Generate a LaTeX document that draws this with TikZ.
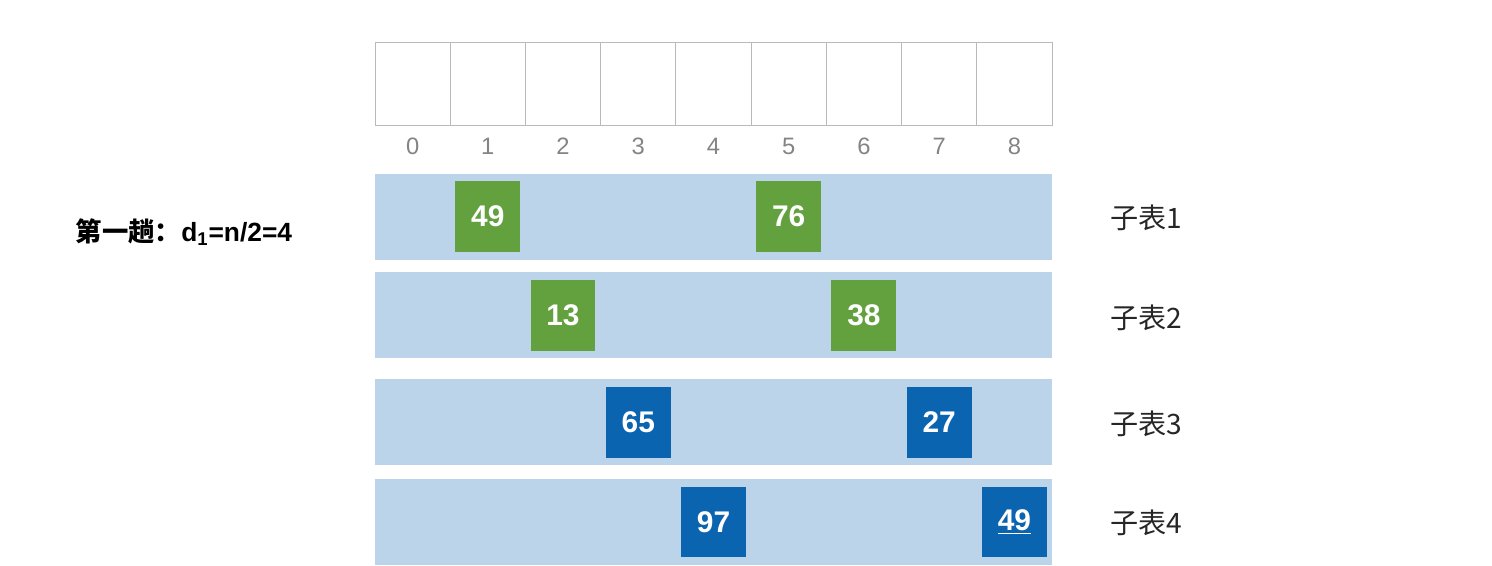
\documentclass[tikz,border=0pt]{standalone}
\usepackage{fontspec}
\setmainfont{Liberation Sans}
\newfontfamily\cjk{Noto Sans CJK SC}
\usepackage{tikz}
\usetikzlibrary{positioning, calc}
\definecolor{bandblue}{RGB}{188,212,234}
\definecolor{keygreen}{RGB}{99,161,62}
\definecolor{keyblue}{RGB}{11,100,176}
\definecolor{cellgray}{RGB}{185,185,185}
\definecolor{idxgray}{RGB}{132,132,132}
\tikzset{
  cell/.style={draw=cellgray, line width=0.5pt, minimum width=1.504cm, minimum height=1.66cm, inner sep=0pt},
  idx/.style={text=idxgray, font=\fontsize{13.5}{15}\selectfont, inner sep=0pt},
  band/.style={fill=bandblue, minimum width=13.54cm, minimum height=1.72cm, inner sep=0pt},
  gkey/.style={fill=keygreen, text=white, minimum width=1.3cm, minimum height=1.42cm, inner sep=0pt,
               font=\fontsize{17}{19}\selectfont\bfseries},
  bkey/.style={gkey, fill=keyblue},
  sublbl/.style={font=\cjk\fontsize{16}{18}\selectfont, text=black!85, inner sep=0pt}
}

\begin{document}
\begin{tikzpicture}[x=0.02cm, y=-0.02cm]
    \useasboundingbox (0,0) rectangle (1492,565);
    % the empty array
    \node[cell] (c0) at (412.6, 83.5) {};
    \node[cell] (c1) at (487.8, 83.5) {};
    \node[cell] (c2) at (563.0, 83.5) {};
    \node[cell] (c3) at (638.3, 83.5) {};
    \node[cell] (c4) at (713.5, 83.5) {};
    \node[cell] (c5) at (788.7, 83.5) {};
    \node[cell] (c6) at (863.9, 83.5) {};
    \node[cell] (c7) at (939.2, 83.5) {};
    \node[cell] (c8) at (1014.4, 83.5) {};
    \node[idx] (i0) at (412.6, 146) {0};
    \node[idx] (i1) at (487.8, 146) {1};
    \node[idx] (i2) at (563.0, 146) {2};
    \node[idx] (i3) at (638.3, 146) {3};
    \node[idx] (i4) at (713.5, 146) {4};
    \node[idx] (i5) at (788.7, 146) {5};
    \node[idx] (i6) at (863.9, 146) {6};
    \node[idx] (i7) at (939.2, 146) {7};
    \node[idx] (i8) at (1014.4, 146) {8};
    % sub-lists
    \node[band] (b1) at (713.5, 217) {};
    \node[band] (b2) at (713.5, 315) {};
    \node[band] (b3) at (713.5, 422) {};
    \node[band] (b4) at (713.5, 522) {};
    \node[gkey] (k49) at (487.8, 216.5) {49};
    \node[gkey] (k76) at (788.7, 216.5) {76};
    \node[gkey] (k13) at (563.0, 315.5) {13};
    \node[gkey] (k38) at (863.9, 315.5) {38};
    \node[bkey] (k65) at (638.3, 422.5) {65};
    \node[bkey] (k27) at (939.2, 422.5) {27};
    \node[bkey] (k97) at (713.5, 522) {97};
    \node[bkey] (k49b) at (1014.4, 522) {\underline{49}};
    \node[sublbl] (s1) at (1146, 218) {子表1};
    \node[sublbl] (s2) at (1146, 318) {子表2};
    \node[sublbl] (s3) at (1146, 424) {子表3};
    \node[sublbl] (s4) at (1146, 523) {子表4};
    \node[font=\bfseries\fontsize{15}{17}\selectfont, inner sep=0pt] (pass) at (184, 232)
      {{\cjk 第一趟：}d\textsubscript{1}=n/2=4};
  \end{tikzpicture}
\end{document}
